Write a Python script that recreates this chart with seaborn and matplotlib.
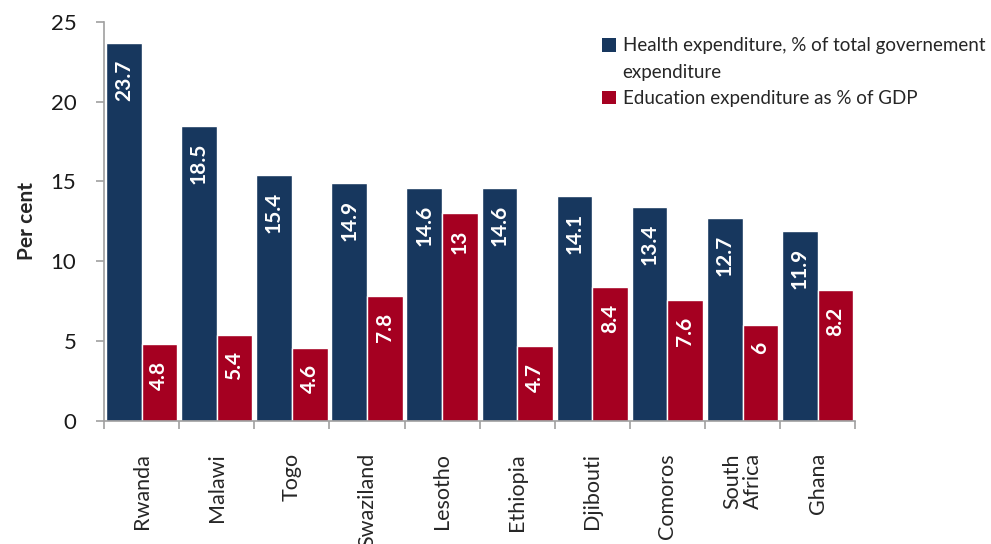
import matplotlib
matplotlib.use("Agg")
import matplotlib.pyplot as plt
import seaborn as sns
import pandas as pd
from matplotlib.patches import Patch

countries = ["Rwanda", "Malawi", "Togo", "Swaziland", "Lesotho",
             "Ethiopia", "Djibouti", "Comoros", "South\nAfrica", "Ghana"]
health = [23.7, 18.5, 15.4, 14.9, 14.6, 14.6, 14.1, 13.4, 12.7, 11.9]
education = [4.8, 5.4, 4.6, 7.8, 13, 4.7, 8.4, 7.6, 6, 8.2]
series_names = ["Health expenditure, % of total governement expenditure",
                "Education expenditure as % of GDP"]
colors = ["#17375E", "#A50021"]
yticks = [0, 5, 10, 15, 20, 25]

df = pd.DataFrame({
    "country": countries * 2,
    "value": health + education,
    "series": [series_names[0]] * len(countries) + [series_names[1]] * len(countries),
})

sns.set_style("white")
plt.rcParams["font.family"] = ["Lato", "DejaVu Sans"]

fig = plt.figure(figsize=(9.91, 5.44), dpi=100)
ax = fig.add_axes([0.105, 0.226, 0.758, 0.734])

sns.barplot(data=df, x="country", y="value", hue="series", order=countries,
            hue_order=series_names, palette=colors, width=0.95, gap=0,
            saturation=1, ax=ax, legend=False, errorbar=None)

# value labels written inside the top of each bar
for container in ax.containers:
    for rect, val in zip(container.patches, container.datavalues):
        ax.annotate(f"{val:g}", (rect.get_x() + rect.get_width() / 2, rect.get_height()),
                    xytext=(0, -12), textcoords="offset points",
                    rotation=90, ha="center", va="top", color="white",
                    fontsize=15, fontweight="bold")

ax.set_ylim(0, 25)
ax.set_xlim(-0.5, len(countries) - 0.5)
ax.set_yticks(yticks)
ax.set_yticklabels([str(t) for t in yticks], fontsize=16, color="#1A1A1A")
ax.set_ylabel("Per cent", fontsize=15, fontweight="bold", labelpad=10)
ax.set_xlabel("")

# ticks at group boundaries, names centred under each group
ax.set_xticks([i - 0.5 for i in range(len(countries) + 1)])
ax.set_xticklabels([])
ax.set_xticks(range(len(countries)), minor=True)
ax.set_xticklabels(countries, minor=True, rotation=90, fontsize=15.5,
                   va="top", ha="center", linespacing=1.0)
ax.tick_params(axis="x", which="major", direction="out", length=6,
               width=1.2, color="#A0A0A0", bottom=True)
ax.tick_params(axis="x", which="minor", length=0, pad=23, bottom=True)
ax.tick_params(axis="y", direction="out", length=6, width=1.2,
               color="#A0A0A0", left=True, pad=14)

for side in ["top", "right"]:
    ax.spines[side].set_visible(False)
for side in ["left", "bottom"]:
    ax.spines[side].set_color("#A0A0A0")
    ax.spines[side].set_linewidth(1.2)

# legend: the long health label wraps onto a second line under its text
first, rest = series_names[0].rsplit(" ", 1)
handles = [Patch(facecolor=colors[0], edgecolor="none"),
           Patch(facecolor="none", edgecolor="none"),
           Patch(facecolor=colors[1], edgecolor="none")]
labels = [first, rest, series_names[1]]
fig.legend(handles, labels, loc="upper left", bbox_to_anchor=(0.6, 0.945),
           frameon=False, fontsize=13.5, handlelength=0.75, handleheight=0.75,
           handletextpad=0.35, labelspacing=0.5, borderaxespad=0)

fig.savefig("out.png", dpi=100)
